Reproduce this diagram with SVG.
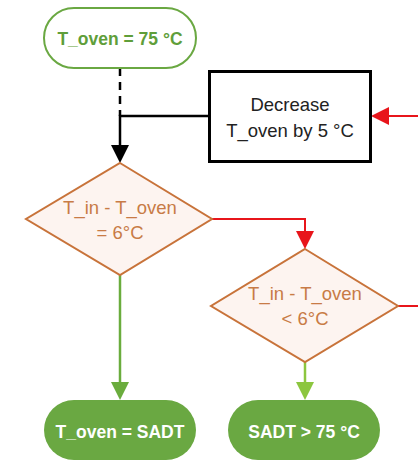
<svg xmlns="http://www.w3.org/2000/svg" width="418" height="463" viewBox="0 0 418 463">
  <defs>
    <style>
      .t { font-family: "Liberation Sans", Arial, sans-serif; text-anchor: middle; }
      .bold { font-weight: bold; }
      .orange { fill: #c87b46; }
      .dia { fill: #fdf4f0; stroke: #c8733a; stroke-width: 2; }
      .pill { fill: #6aa842; }
    </style>
  </defs>
  <rect width="418" height="463" fill="#fff"/>

  <g id="connectors" fill="none">
    <path d="M120,68 V116" stroke="#000" stroke-width="2.5" stroke-dasharray="8,6"/>
    <path d="M209,116 H120 V148" stroke="#000" stroke-width="2.5"/>
    <path d="M111,145 L129,145 L120,163 z" fill="#000"/>
    <path d="M418,116 H388" stroke="#e8151b" stroke-width="2"/>
    <path d="M389,107 L389,125 L371,116 z" fill="#e8151b"/>
    <path d="M212,219 H305 V234" stroke="#e8151b" stroke-width="2"/>
    <path d="M296,231 L314,231 L305,249 z" fill="#e8151b"/>
    <path d="M398,306 H418" stroke="#e8151b" stroke-width="2"/>
    <path d="M120,275 V384" stroke="#6aac3d" stroke-width="2.5"/>
    <path d="M111,382 L129,382 L120,400 z" fill="#6aac3d"/>
    <path d="M305,362 V384" stroke="#8cc63f" stroke-width="2.5"/>
    <path d="M296,382 L314,382 L305,400 z" fill="#8cc63f"/>
  </g>

  <g id="start">
    <rect x="44" y="8" width="152" height="60" rx="30" ry="30" fill="#fff" stroke="#6aa842" stroke-width="2"/>
    <text class="t bold" x="120" y="45" font-size="17.5" fill="#5f9e3a">T_oven = 75 °C</text>
  </g>

  <g id="decrease">
    <rect x="209.5" y="71.5" width="161" height="90" fill="#fff" stroke="#000" stroke-width="3"/>
    <text class="t" x="290" y="111" font-size="18.5" fill="#222">Decrease</text>
    <text class="t" x="290" y="137" font-size="18.5" fill="#222">T_oven by 5 °C</text>
  </g>

  <g id="decision1">
    <path class="dia" d="M120,163 L212,219 L120,275 L26,219 z"/>
    <text class="t orange" x="120" y="214" font-size="18.5">T_in - T_oven</text>
    <text class="t orange" x="120" y="239" font-size="18.5">= 6°C</text>
  </g>

  <g id="decision2">
    <path class="dia" d="M305,249 L398,306 L305,362 L211,306 z"/>
    <text class="t orange" x="305" y="300" font-size="18.5">T_in - T_oven</text>
    <text class="t orange" x="305" y="325" font-size="18.5">&lt; 6°C</text>
  </g>

  <g id="end1">
    <rect class="pill" x="44" y="400" width="152" height="60" rx="30" ry="30"/>
    <text class="t bold" x="120" y="438" font-size="17.5" fill="#fff">T_oven = SADT</text>
  </g>

  <g id="end2">
    <rect class="pill" x="228" y="400" width="152" height="60" rx="30" ry="30"/>
    <text class="t bold" x="304" y="438" font-size="17.5" fill="#fff">SADT &gt; 75 °C</text>
  </g>
</svg>
